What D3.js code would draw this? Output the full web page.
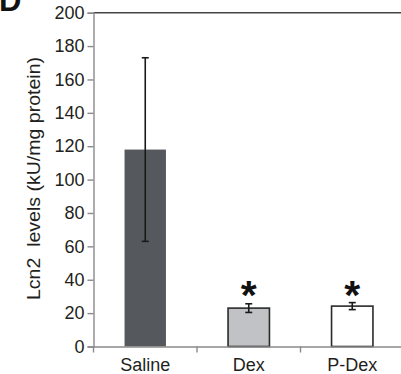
<!DOCTYPE html>
<html><head><meta charset="utf-8">
<script src="https://cdn.jsdelivr.net/npm/d3@7"></script>
<style>body{margin:0;background:#fff}svg{display:block}</style>
</head><body>
<svg id="c" width="401" height="374"></svg>
<script>
const categories = ["Saline", "Dex", "P-Dex"];
const means = [118, 23, 24.2];
const errors = [55, 2.6, 2.1];
const significant = [false, true, true];
const yTicks = [0, 20, 40, 60, 80, 100, 120, 140, 160, 180, 200];
const fills = ["#55595d", "#c1c2c5", "#ffffff"];

const svg = d3.select("#c");
const font = "'Liberation Sans', Arial, sans-serif";
const x0 = 93.5, x1 = 404, yTop = 12.7, yBot = 346.5;

const x = d3.scaleBand().domain(categories).range([x0, x1]).paddingInner(0.6).paddingOuter(0.3);
const xo = d3.scaleBand().domain(categories).range([x0, x1]);
const y = d3.scaleLinear().domain([0, 200]).range([yBot, yTop]);

// top frame line
svg.append("line").attr("x1", x0).attr("x2", 401).attr("y1", yTop).attr("y2", yTop)
  .attr("stroke", "#444").attr("stroke-width", 1.6);

// y axis
const ya = svg.append("g").attr("transform", `translate(${x0},0)`)
  .call(d3.axisLeft(y).tickValues(yTicks).tickSize(6).tickPadding(3));
ya.select(".domain").attr("stroke", "#8a8a8a").attr("stroke-width", 1.4);
ya.selectAll(".tick line").attr("stroke", "#8a8a8a").attr("stroke-width", 1.4);
ya.selectAll(".tick text").attr("font-family", font).attr("font-size", 18).attr("fill", "#231f20");

// bars
svg.selectAll("rect.bar").data(categories).enter().append("rect")
  .attr("x", d => x(d)).attr("width", x.bandwidth())
  .attr("y", (d, i) => y(means[i])).attr("height", (d, i) => yBot - y(means[i]))
  .attr("fill", (d, i) => fills[i])
  .attr("stroke", (d, i) => i === 0 ? "none" : "#2a2a2a").attr("stroke-width", 1.6);

// x axis
const xa = svg.append("g").attr("transform", `translate(0,${yBot})`)
  .call(d3.axisBottom(xo).tickSize(0).tickPadding(12));
xa.select(".domain").attr("stroke", "#8a8a8a").attr("stroke-width", 1.4);
xa.selectAll(".tick text").attr("font-family", font).attr("font-size", 18).attr("fill", "#231f20");
svg.selectAll("line.xt").data(d3.range(categories.length + 1)).enter().append("line")
  .attr("x1", i => x0 + i * xo.step()).attr("x2", i => x0 + i * xo.step())
  .attr("y1", yBot).attr("y2", yBot + 6).attr("stroke", "#8a8a8a").attr("stroke-width", 1.4);

// error bars
const cx = d => x(d) + x.bandwidth() / 2;
const eb = svg.selectAll("g.eb").data(categories).enter().append("g")
  .attr("stroke", "#1a1a1a").attr("stroke-width", 1.6);
eb.append("line").attr("x1", cx).attr("x2", cx)
  .attr("y1", (d, i) => y(means[i] + errors[i])).attr("y2", (d, i) => y(means[i] - errors[i]));
eb.append("line").attr("x1", d => cx(d) - 3.5).attr("x2", d => cx(d) + 3.5)
  .attr("y1", (d, i) => y(means[i] + errors[i])).attr("y2", (d, i) => y(means[i] + errors[i]));
eb.append("line").attr("x1", d => cx(d) - 3.5).attr("x2", d => cx(d) + 3.5)
  .attr("y1", (d, i) => y(means[i] - errors[i])).attr("y2", (d, i) => y(means[i] - errors[i]));

// asterisks
svg.selectAll("text.star").data(categories.filter((d, i) => significant[i])).enter().append("text")
  .attr("x", cx).attr("y", 309).attr("text-anchor", "middle")
  .attr("font-family", font).attr("font-weight", "bold").attr("font-size", 41).attr("fill", "#111")
  .text("*");

// y title
svg.append("text").attr("transform", "translate(40,178.5) rotate(-90)").attr("text-anchor", "middle")
  .attr("font-family", font).attr("font-size", 19).attr("fill", "#231f20")
  .attr("textLength", 243).attr("lengthAdjust", "spacingAndGlyphs")
  .attr("xml:space", "preserve").text("Lcn2  levels (kU/mg protein)");

// panel letter
svg.append("text").attr("x", -1).attr("y", 10.5).attr("font-family", font).attr("font-weight", "bold")
  .attr("font-size", 31).attr("fill", "#111").text("D");
</script>
</body></html>
